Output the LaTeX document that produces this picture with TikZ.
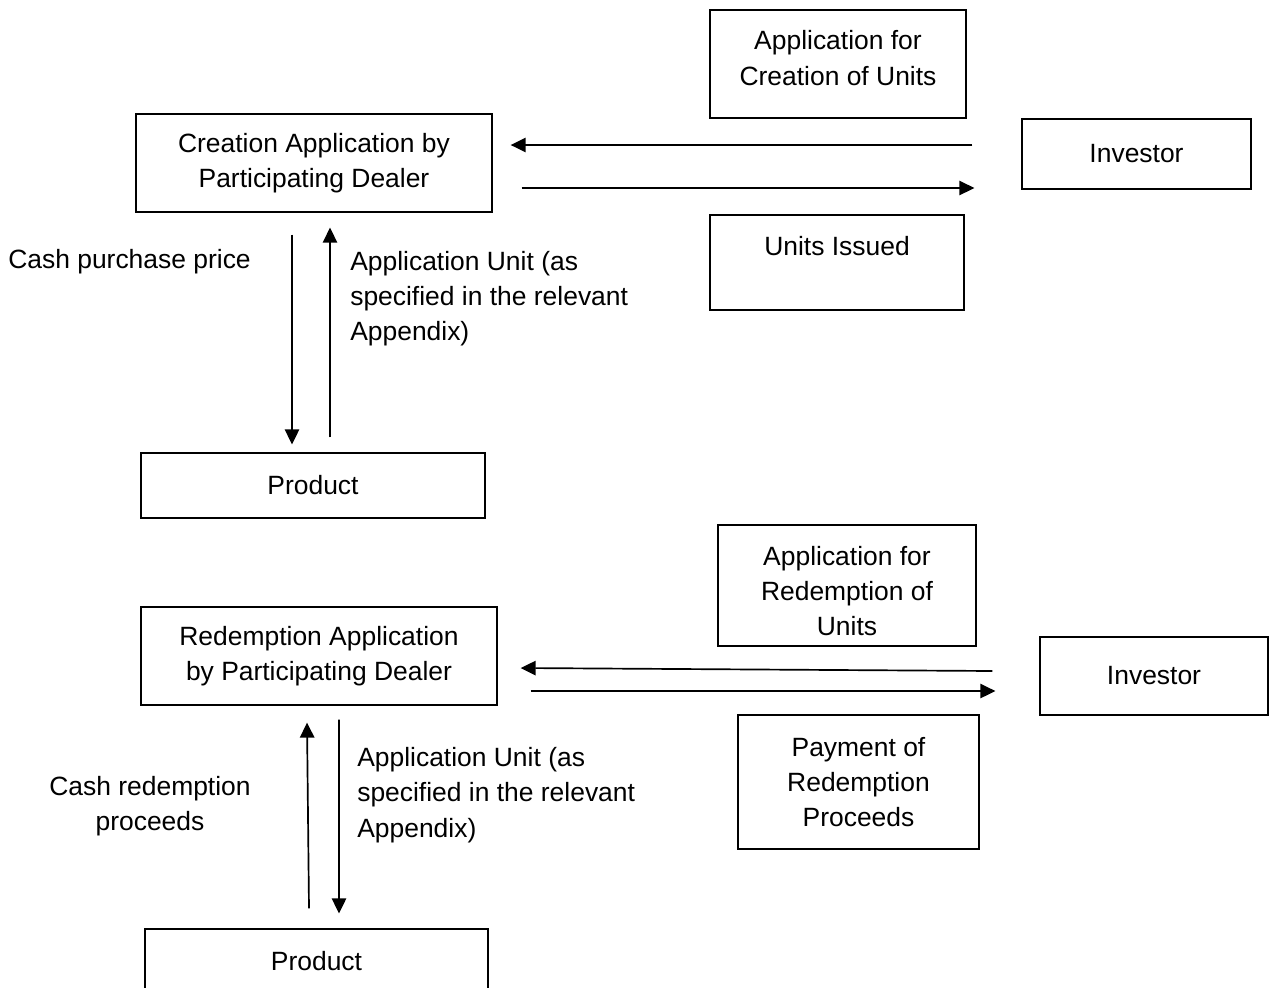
\documentclass[tikz,border=0pt]{standalone}
\usepackage{fontspec}
\setmainfont{Liberation Sans}
\usetikzlibrary{arrows.meta}

\begin{document}
\begin{tikzpicture}[x=0.025cm,y=-0.025cm,
  every node/.style={font=\fontsize{18.8}{25}\selectfont},
  box/.style={draw,line width=0.9pt,align=center,inner sep=0pt},
  arr/.style={line width=1.2pt,-{Triangle[length=0.375cm,width=0.36cm]}},
  txt/.style={inner sep=0pt,align=left}]
\clip (0,0) rectangle (1269,987);
% creation
\node (appcreate) [box,minimum width=6.4cm,minimum height=2.7cm] at (838,64) {};
\node (appcreatetext) [txt,align=center] at (838,58) {Application for\\Creation of Units};
\node (createdealer) [box,minimum width=8.9cm,minimum height=2.45cm] at (314,163) {Creation Application by\\Participating Dealer};
\node (investor1) [box,minimum width=5.725cm,minimum height=1.75cm] at (1136.5,154) {Investor};
\node (issued) [box,minimum width=6.35cm,minimum height=2.375cm] at (837,262.5) {};
\node (issuedtext) [txt] at (837,246) {Units Issued};
\node (product1) [box,minimum width=8.6cm,minimum height=1.625cm] at (313,485.5) {Product};
\node (cashbuy) [txt,anchor=west] at (8,262) {Cash purchase price};
\node (unitbuy) [txt,anchor=west] at (350,299) {Application Unit (as\\specified in the relevant\\Appendix)};
\draw [arr] ([shift={(-49,-9)}]investor1.west) -- ([shift={(18,-18)}]createdealer.east);
\draw [arr] ([shift={(29,25)}]createdealer.east) -- ([shift={(-47,34)}]investor1.west);
\draw [arr] ([shift={(-22,22)}]createdealer.south) -- ([shift={(-21,-8)}]product1.north);
\draw [arr] ([shift={(17,-15)}]product1.north) -- ([shift={(16,15)}]createdealer.south);
% redemption
\node (appredeem) [box,minimum width=6.45cm,minimum height=3.025cm] at (847,585.5) {};
\node (appredeemtext) [txt,align=center] at (847,591) {Application for\\Redemption of\\Units};
\node (redeemdealer) [box,minimum width=8.9cm,minimum height=2.45cm] at (319,656) {Redemption Application\\by Participating Dealer};
\node (investor2) [box,minimum width=5.7cm,minimum height=1.95cm] at (1154,676) {Investor};
\node (payment) [box,minimum width=6.025cm,minimum height=3.35cm] at (858.5,782) {Payment of\\Redemption\\Proceeds};
\node (product2) [box,minimum width=8.575cm,minimum height=1.625cm] at (316.5,961.5) {Product};
\node (cashsell) [txt,align=center] at (150,806) {Cash redemption\\proceeds};
\node (unitsell) [txt,anchor=west] at (357,795) {Application Unit (as\\specified in the relevant\\Appendix)};
\draw [arr] ([shift={(-47,-5)}]investor2.west) -- ([shift={(23,12)}]redeemdealer.east);
\draw [arr] ([shift={(33,35)}]redeemdealer.east) -- ([shift={(-44,15)}]investor2.west);
\draw [arr] ([shift={(-7.5,-20)}]product2.north) -- ([shift={(-12,17)}]redeemdealer.south);
\draw [arr] ([shift={(20,14)}]redeemdealer.south) -- ([shift={(22.5,-15)}]product2.north);
\end{tikzpicture}
\end{document}
